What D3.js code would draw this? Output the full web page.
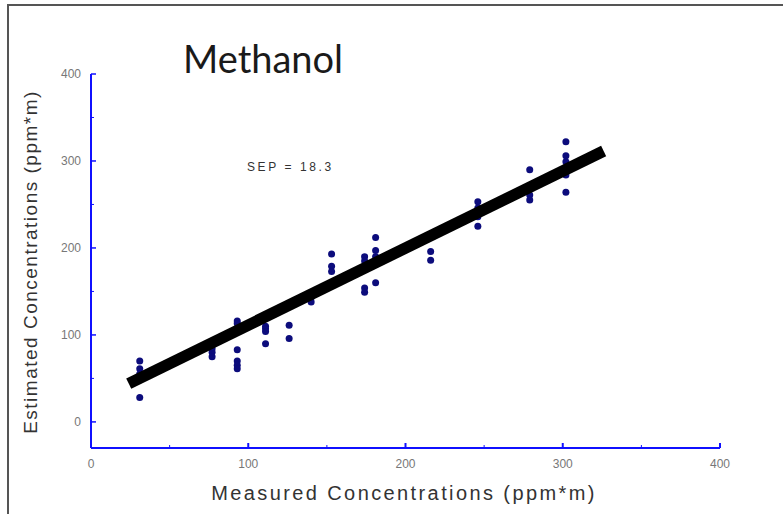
<!DOCTYPE html>
<html>
<head>
<meta charset="utf-8">
<script src="https://cdn.jsdelivr.net/npm/d3@7"></script>
<style>
    body { margin: 0; background: #fff; }
    svg { display: block; }
</style>
</head>
<body>
<svg id="chart" width="783" height="514"></svg>
<script>
// measured concentration of each group and the estimated values found for it
var measured = [31, 77, 93, 111, 126, 140, 153, 174, 181, 216, 246, 279, 302]
var estimated = [
    [70, 61, 55, 28],
    [84, 80, 75],
    [116, 113, 83, 70, 65, 61],
    [110, 107, 104, 90],
    [111, 96],
    [148, 143, 138],
    [193, 179, 173],
    [190, 185, 178, 154, 149],
    [212, 197, 190, 160],
    [215, 196, 186],
    [253, 246, 236, 225],
    [290, 261, 255],
    [322, 306, 299, 290, 284, 264]
]
var fitX = [24, 326]
var fitY = [44, 311.5]
var majorTicks = [0, 100, 200, 300, 400]
var minorTicks = [50, 150, 250, 350]

var points = []
measured.forEach(function (m, i) {
    estimated[i].forEach(function (e) { points.push({ x: m, y: e }) })
})

var svg = d3.select("#chart")

// frame round the picture
svg.append("path")
    .attr("d", "M8,514 L8,5 L783,5")
    .attr("fill", "none")
    .attr("stroke", "#555")
    .attr("stroke-width", 2)

var x = d3.scaleLinear().domain([0, 400]).range([91, 720])
var y = d3.scaleLinear().domain([-30, 400]).range([448, 74])

var axisColor = "#1010ff"

// x axis
var xAxis = svg.append("g")
xAxis.append("line")
    .attr("x1", x(0)).attr("x2", x(400))
    .attr("y1", y(-30)).attr("y2", y(-30))
    .attr("stroke", axisColor).attr("stroke-width", 2)
xAxis.selectAll(".major").data(majorTicks).enter().append("line")
    .attr("x1", d => x(d)).attr("x2", d => x(d))
    .attr("y1", y(-30)).attr("y2", y(-30) - 5)
    .attr("stroke", axisColor).attr("stroke-width", 2)
xAxis.selectAll(".minor").data(minorTicks).enter().append("line")
    .attr("x1", d => x(d)).attr("x2", d => x(d))
    .attr("y1", y(-30)).attr("y2", y(-30) - 3)
    .attr("stroke", axisColor).attr("stroke-width", 1)
xAxis.selectAll("text").data(majorTicks).enter().append("text")
    .attr("x", d => x(d))
    .attr("y", y(-30) + 20)
    .attr("text-anchor", "middle")
    .style("font-family", "Liberation Sans, Arial")
    .style("font-size", "12px")
    .style("fill", "#777")
    .text(d => d)

// y axis
var yAxis = svg.append("g")
yAxis.append("line")
    .attr("x1", x(0)).attr("x2", x(0))
    .attr("y1", y(-30)).attr("y2", y(400))
    .attr("stroke", axisColor).attr("stroke-width", 2)
yAxis.selectAll(".major").data(majorTicks).enter().append("line")
    .attr("x1", x(0)).attr("x2", x(0) + 5)
    .attr("y1", d => y(d)).attr("y2", d => y(d))
    .attr("stroke", axisColor).attr("stroke-width", 1.5)
yAxis.selectAll(".minor").data(minorTicks).enter().append("line")
    .attr("x1", x(0)).attr("x2", x(0) + 3)
    .attr("y1", d => y(d)).attr("y2", d => y(d))
    .attr("stroke", axisColor).attr("stroke-width", 1)
yAxis.selectAll("text").data(majorTicks).enter().append("text")
    .attr("x", x(0) - 10)
    .attr("y", d => y(d) + 4)
    .attr("text-anchor", "end")
    .style("font-family", "Liberation Sans, Arial")
    .style("font-size", "12px")
    .style("fill", "#777")
    .text(d => d)

// points
svg.append("g").selectAll("circle")
    .data(points)
    .enter()
    .append("circle")
    .attr("cx", d => x(d.x))
    .attr("cy", d => y(d.y))
    .attr("r", 3.5)
    .attr("fill", "#0c0c7c")

// fitted line
svg.append("line")
    .attr("x1", x(fitX[0])).attr("y1", y(fitY[0]))
    .attr("x2", x(fitX[1])).attr("y2", y(fitY[1]))
    .attr("stroke", "#000")
    .attr("stroke-width", 11.5)

// texts
svg.append("text")
    .attr("x", 183).attr("y", 73)
    .style("font-family", "Lato, Open Sans")
    .style("font-size", "38px")
    .style("fill", "#1a1a1a")
    .text("Methanol")

svg.append("text")
    .attr("x", 247).attr("y", 171)
    .style("font-family", "Liberation Sans, Arial")
    .style("font-size", "12px")
    .style("letter-spacing", "2.6px")
    .style("fill", "#333")
    .text("SEP = 18.3")

svg.append("text")
    .attr("x", 404).attr("y", 500)
    .attr("text-anchor", "middle")
    .style("font-family", "Liberation Sans, Arial")
    .style("font-size", "20px")
    .style("letter-spacing", "2.4px")
    .style("fill", "#333")
    .text("Measured Concentrations (ppm*m)")

svg.append("text")
    .attr("transform", "translate(37,262) rotate(-90)")
    .attr("text-anchor", "middle")
    .style("font-family", "Liberation Sans, Arial")
    .style("font-size", "19px")
    .style("letter-spacing", "1.5px")
    .style("fill", "#333")
    .text("Estimated Concentrations (ppm*m)")
</script>
</body>
</html>
